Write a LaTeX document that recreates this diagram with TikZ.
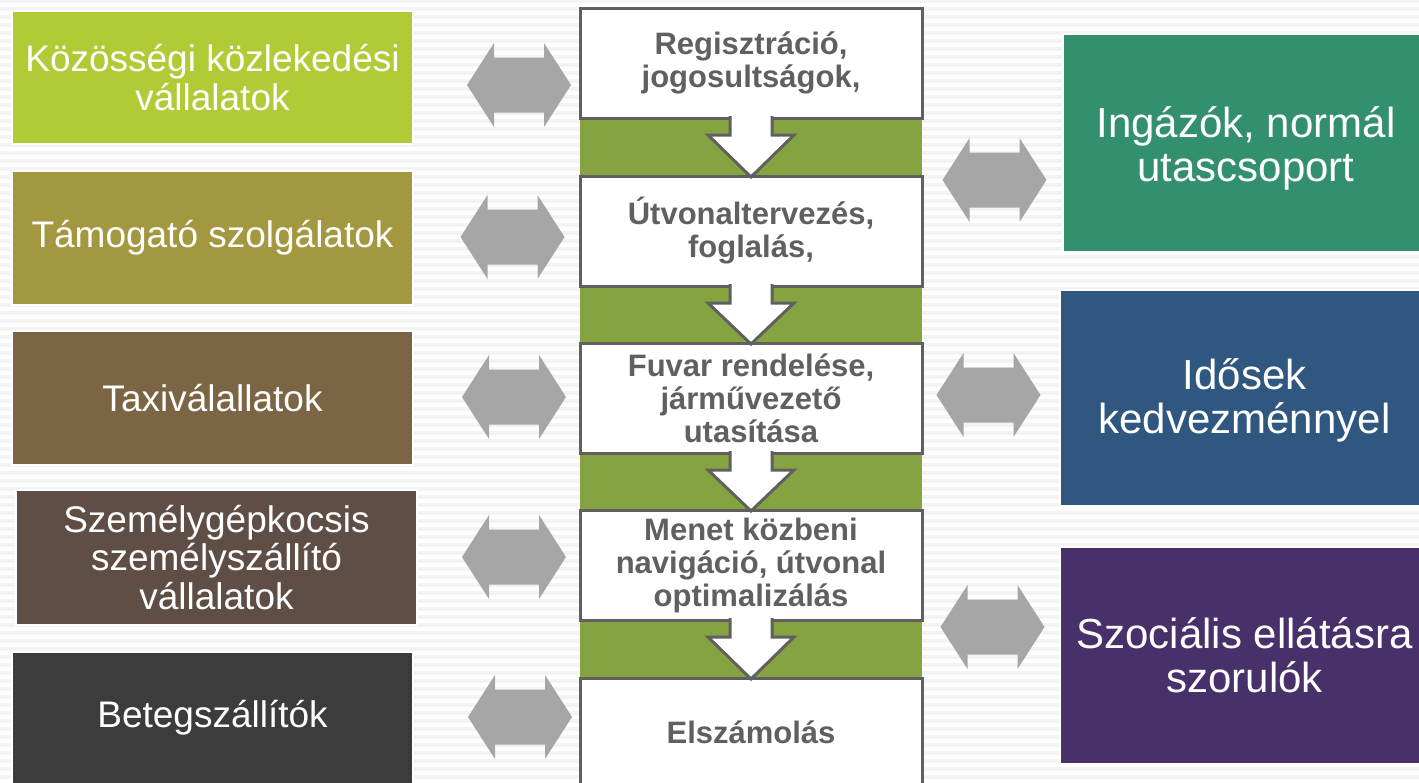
\documentclass[tikz,border=0pt]{standalone}
\usepackage{fontspec}
\setmainfont{Liberation Sans}
\usetikzlibrary{calc}
\definecolor{stripe}{HTML}{F3F3F3}
\definecolor{lA}{HTML}{AFCB36}
\definecolor{lB}{HTML}{A3973F}
\definecolor{lC}{HTML}{7B6544}
\definecolor{lD}{HTML}{5F4E45}
\definecolor{lE}{HTML}{3C3C3C}
\definecolor{rA}{HTML}{33906C}
\definecolor{rB}{HTML}{30577F}
\definecolor{rC}{HTML}{48306B}
\definecolor{band}{HTML}{86A342}
\definecolor{bord}{HTML}{606060}
\definecolor{arrgray}{HTML}{A6A6A6}
\tikzset{
  lbox/.style={rectangle, draw=white, line width=2.5pt, text=white, align=center, inner sep=0pt, outer sep=0pt,
    minimum width=401pt, font=\fontsize{37}{38.5}\selectfont},
  rbox/.style={rectangle, draw=white, line width=2.5pt, text=white, align=center, inner sep=0pt, outer sep=0pt,
    minimum width=369pt, font=\fontsize{42}{44}\selectfont},
  rtext/.style={text=white, align=center, inner sep=0pt, font=\fontsize{42}{44}\selectfont},
  cbox/.style={rectangle, draw=bord, fill=white, line width=3pt, text=bord, align=center, inner sep=0pt, outer sep=0pt,
    minimum width=342pt, minimum height=110pt, font=\bfseries\fontsize{31}{33}\selectfont},
  darr/.style={fill=white, draw=bord, line width=3pt, line join=miter},
  dblarr/.pic={\fill[arrgray] (-52,0) -- (-25,-42) -- (-25,-27.5) -- (25,-27.5) -- (25,-42) -- (52,0)
     -- (25,42) -- (25,27.5) -- (-25,27.5) -- (-25,42) -- cycle;}
}
\begin{document}
\begin{tikzpicture}[x=1pt,y=-1pt]
\useasboundingbox (0,0) rectangle (1419,782);
\clip (0,0) rectangle (1419,782);
\fill[white] (0,0) rectangle (1419,782);
\foreach \k in {0,...,98} {\fill[stripe] (0,8*\k-1) rectangle (1419,8*\k+3);}

% left boxes
\node[lbox, fill=lA, minimum height=133pt] (l1) at (212.5,77.5) {Közösségi közlekedési\\vállalatok};
\node[lbox, fill=lB, minimum height=134pt] (l2) at (212.5,238) {Támogató szolgálatok};
\node[lbox, fill=lC, minimum height=134pt] (l3) at (212.5,398) {Taxiválallatok};
\node[lbox, fill=lD, minimum height=135pt] (l4) at (216.5,557.5) {Személygépkocsis\\személyszállító\\vállalatok};
\node[lbox, fill=lE, minimum height=132pt] (l5) at (212.5,718) {Betegszállítók};

% right boxes
\node[rbox, fill=rA, minimum height=218pt, minimum width=366pt] (r1) at (1246,143) {};
\node[rtext] (t1) at (1246,148) {Ingázók, normál\\utascsoport};
\node[rbox, fill=rB, minimum height=216pt] (r2) at (1244.5,398) {};
\node[rtext] (t2) at (1244.5,400) {Idősek\\kedvezménnyel};
\node[rbox, fill=rC, minimum height=217pt] (r3) at (1244.5,655.5) {};
\node[rtext] (t3) at (1244.5,655) {Szociális ellátásra\\szorulók};

% center column
\fill[band] (580,110) rectangle (922,700);
\node[cbox] (c1) at (751,63) {Regisztráció,\\jogosultságok,};
\node[cbox] (c2) at (751,231) {Útvonaltervezés,\\foglalás,};
\node[cbox] (c3) at (751,398) {Fuvar rendelése,\\járművezető\\utasítása};
\node[cbox] (c4) at (751,565) {Menet közbeni\\navigáció, útvonal\\optimalizálás};
\node[cbox, minimum height=116pt] (c5) at (751,736) {};
\node[text=bord, font=\bfseries\fontsize{31}{33}\selectfont] (t5) at (751,732) {Elszámolás};

\foreach \a/\b in {c1/c2,c2/c3,c3/c4,c4/c5} {
  \filldraw[darr] ($(\a.south)+(-21,-2)$) -- ($(\a.south)+(-21,17)$) -- ($(\a.south)+(-43,17)$)
    -- ($(\b.north)+(0,1)$) -- ($(\a.south)+(43,17)$) -- ($(\a.south)+(21,17)$) -- ($(\a.south)+(21,-2)$);
}

% double arrows (connectors)
\pic at (519,85) {dblarr};
\pic at (512.5,237) {dblarr};
\pic at (514,397) {dblarr};
\pic at (514,557) {dblarr};
\pic at (520,717) {dblarr};
\pic at (994.5,180) {dblarr};
\pic at (988.5,395) {dblarr};
\pic at (992.5,627) {dblarr};
\end{tikzpicture}
\end{document}
